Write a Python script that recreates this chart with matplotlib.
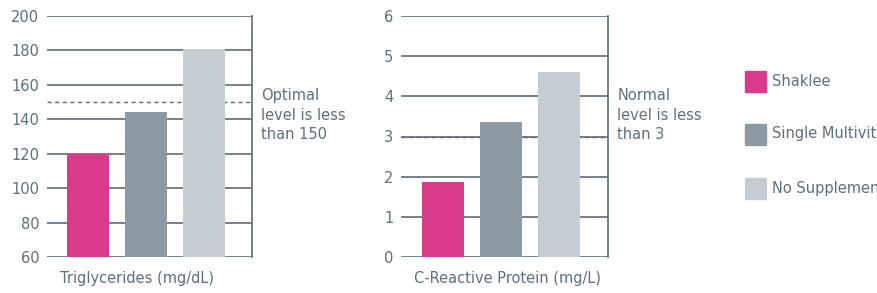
import matplotlib
matplotlib.use("Agg")
import matplotlib.pyplot as plt
from matplotlib.patches import Rectangle

groups = ["Shaklee", "Single Multivitamin", "No Supplement"]
colors = ["#d93a8a", "#8e9aa3", "#c5ccd2"]

trig_values = [120, 144, 181]
trig_ticks = [60, 80, 100, 120, 140, 160, 180, 200]
trig_ref = 150
trig_label = "Triglycerides (mg/dL)"
trig_note = "Optimal\nlevel is less\nthan 150"

crp_values = [1.87, 3.36, 4.61]
crp_ticks = [0, 1, 2, 3, 4, 5, 6]
crp_ref = 3
crp_label = "C-Reactive Protein (mg/L)"
crp_note = "Normal\nlevel is less\nthan 3"

W, H = 878, 293
txt = "#5f6f7c"
grid = "#5d6b77"
FS = 10.5
plt.rcParams['font.family'] = ['DejaVu Sans']

fig = plt.figure(figsize=(W / 100, H / 100), dpi=100)


def make_axes(x0, x1, y0, y1):
    return fig.add_axes([x0 / W, 1 - y1 / H, (x1 - x0) / W, (y1 - y0) / H])


def draw(ax, values, ticks, ref, label, note, xlim):
    xs = range(len(values))
    ax.bar(xs, [v - ticks[0] for v in values], bottom=ticks[0], width=0.724,
           color=colors, zorder=3)
    ax.set_ylim(ticks[0], ticks[-1])
    ax.set_xlim(*xlim)
    ax.set_yticks(ticks)
    ax.set_yticklabels([str(t) for t in ticks], fontsize=FS, color=txt)
    ax.tick_params(axis='y', length=0, pad=5.5)
    ax.set_xticks([])
    for t in ticks:
        ax.axhline(t, color=grid, lw=1.2, zorder=1)
    ax.axhline(ref, color=grid, lw=1.0, ls=(0, (3, 2.5)), zorder=2)
    for s in ["left", "top", "bottom"]:
        ax.spines[s].set_visible(False)
    ax.spines["right"].set_color(grid)
    ax.spines["right"].set_linewidth(1.2)
    ax.text(0.063, -0.09, label, transform=ax.transAxes, fontsize=FS,
            color=txt, ha='left', va='center')
    ax.text(1.045, 0.70, note, transform=ax.transAxes, fontsize=FS,
            color=txt, ha='left', va='top', linespacing=1.36)


ax1 = make_axes(47, 252, 16, 257)
draw(ax1, trig_values, trig_ticks, trig_ref, trig_label, trig_note, (-0.707, 2.828))
ax2 = make_axes(401, 608, 16, 257)
draw(ax2, crp_values, crp_ticks, crp_ref, crp_label, crp_note, (-0.724, 2.845))

leg_y = [81, 134, 188]
for name, c, y in zip(groups, colors, leg_y):
    fig.patches.append(Rectangle((745 / W, 1 - (y + 10.5) / H), 21 / W, 21 / H,
                                 transform=fig.transFigure, color=c))
    fig.text(772 / W, 1 - y / H, name, fontsize=FS, color=txt,
             ha='left', va='center')

fig.savefig("out.png", dpi=100)
